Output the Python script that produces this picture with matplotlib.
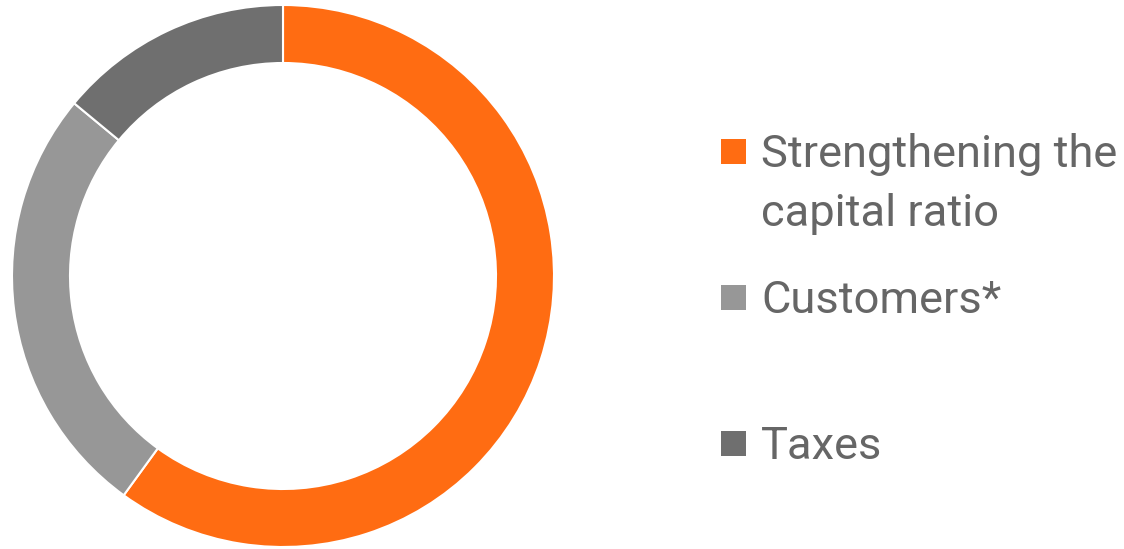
import matplotlib
matplotlib.use('Agg')
import matplotlib.pyplot as plt
import matplotlib.patches as patches

# --- DATOS ---
labels = [['Strengthening the', 'capital ratio'], ['Customers*'], ['Taxes']]
shares = [60, 26, 14]
colors = ['#FF6C12', '#979797', '#6F6F6F']

# baseline de la primera línea de cada entrada (px desde arriba)
leg_y = [167, 313, 459]
line_gap = 59

W, H = 1124, 549
fig = plt.figure(figsize=(W / 100, H / 100), dpi=100)
fam = 'Roboto'

# --- DONUT ---
cx, cy, r = 283, 276, 271
ax = fig.add_axes([(cx - r) / W, (H - cy - r) / H, 2 * r / W, 2 * r / H])
ax.pie(shares, colors=colors, startangle=90, counterclock=False, radius=1,
       wedgeprops={'width': 0.214, 'edgecolor': 'white', 'linewidth': 1.5})
ax.set_xlim(-1, 1)
ax.set_ylim(-1, 1)
ax.set_aspect('equal')
ax.axis('off')

# tamaño de letra ajustado al ancho de "Strengthening the" (~356 px)
rend = fig.canvas.get_renderer()
t = fig.text(0, 0, labels[0][0], fontsize=30, family=fam)
fs = 30 * 356 / t.get_window_extent(rend).width
t.remove()

# --- LEYENDA ---
sq = 25
for lines, col, yb in zip(labels, colors, leg_y):
    fig.patches.append(patches.Rectangle((721 / W, (H - yb + 3) / H), sq / W, sq / H,
                                         transform=fig.transFigure, facecolor=col,
                                         edgecolor='none'))
    for k, txt in enumerate(lines):
        fig.text(761 / W, (H - yb - k * line_gap) / H, txt, fontsize=fs,
                 color='#666666', family=fam, va='baseline', ha='left')

fig.savefig('out.png', dpi=100)
